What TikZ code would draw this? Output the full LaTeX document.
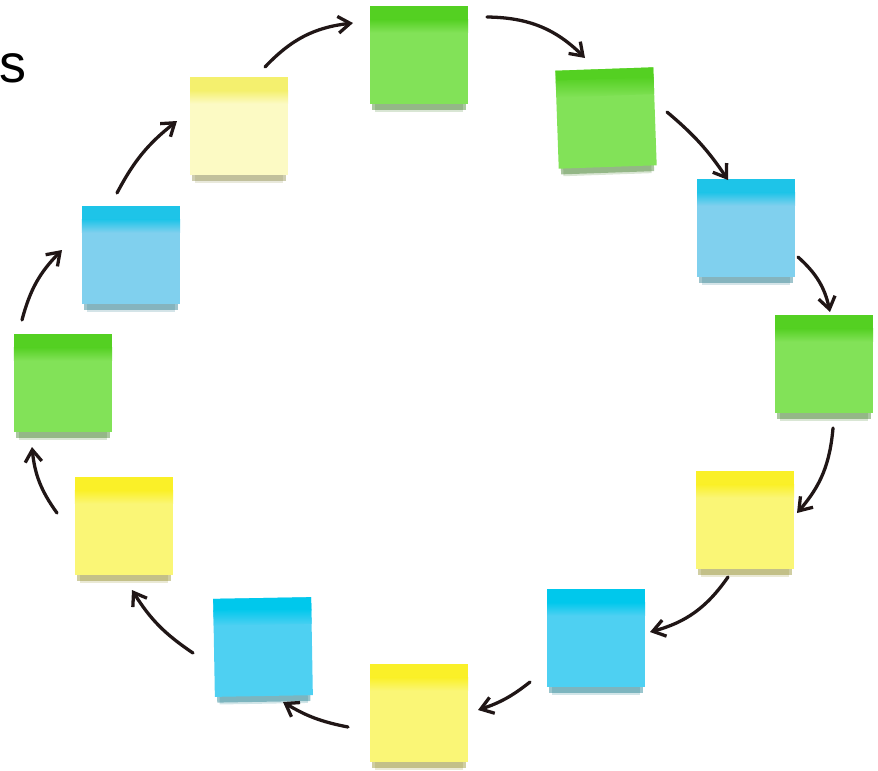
\documentclass[tikz,border=0pt]{standalone}
\usepackage{fontspec}
\setsansfont{Liberation Sans}
\usepackage{tikz}
\usetikzlibrary{arrows.meta, shadows, positioning}
\definecolor{greenbody}{RGB}{130,226,88}
\definecolor{greentop}{RGB}{84,208,34}
\definecolor{bluebody}{RGB}{128,208,238}
\definecolor{bluetop}{RGB}{30,196,232}
\definecolor{cyanbody}{RGB}{78,208,242}
\definecolor{cyantop}{RGB}{0,200,236}
\definecolor{yellowbody}{RGB}{250,246,118}
\definecolor{yellowtop}{RGB}{250,240,40}
\definecolor{palebody}{RGB}{252,250,196}
\definecolor{paletop}{RGB}{244,240,110}
\definecolor{ink}{RGB}{32,22,22}
\tikzset{note/.style 2 args={rectangle, minimum width=2.94cm, minimum height=2.94cm, inner sep=0pt, fill=#1,
    drop shadow={shadow xshift=0pt, shadow yshift=-0.42cm, shadow scale=0.9, fill=#2!55!black, opacity=0.18},
    drop shadow={shadow xshift=0pt, shadow yshift=-0.26cm, shadow scale=0.95, fill=#2!55!black, opacity=0.4},
    path picture={\fill[#2] (path picture bounding box.north west) rectangle ([yshift=-0.4cm]path picture bounding box.north east);
        \shade[top color=#2, bottom color=#1] ([yshift=-0.4cm]path picture bounding box.north west) rectangle ([yshift=-0.8cm]path picture bounding box.north east);}}}
\tikzstyle{greennote} = [note={greenbody}{greentop}]
\tikzstyle{bluenote} = [note={bluebody}{bluetop}]
\tikzstyle{cyannote} = [note={cyanbody}{cyantop}]
\tikzstyle{yellownote} = [note={yellowbody}{yellowtop}]
\tikzstyle{palenote} = [note={palebody}{paletop}]
\tikzstyle{flow} = [-{Straight Barb[length=3.6mm, width=5mm]}, line width=2.8pt, draw=ink, line cap=round]

\begin{document}
\begin{tikzpicture}[x=0.03cm, y=-0.03cm]
        \useasboundingbox (0,0) rectangle (878,770);
        \node[anchor=base west, inner sep=0pt, font=\sffamily\fontsize{46}{46}\selectfont] (word) at (-1,82) {s};

        \node[greennote] (n1) at (419,55) {};
        \node[greennote, rotate=2] (n2) at (606,118) {};
        \node[bluenote] (n3) at (746,228) {};
        \node[greennote] (n4) at (824,364) {};
        \node[yellownote] (n5) at (745,520) {};
        \node[cyannote] (n6) at (596,638) {};
        \node[yellownote] (n7) at (419,713) {};
        \node[cyannote, rotate=1] (n8) at (263,647) {};
        \node[yellownote] (n9) at (124,526) {};
        \node[greennote] (n10) at (63,383) {};
        \node[bluenote] (n11) at (131,255) {};
        \node[palenote] (n12) at (239,126) {};

        \draw [flow] ([shift={(26,-59)}]n12.center) to[bend left=20] ([shift={(-66,-32)}]n1.center);
        \draw [flow] ([shift={(68,-38)}]n1.center) to[bend left=22] ([shift={(-21,-60)}]n2.center);
        \draw [flow] ([shift={(61,-6)}]n2.center) to[bend left=8] ([shift={(-18,-48)}]n3.center);
        \draw [flow] ([shift={(52,29)}]n3.center) to[bend left=18] ([shift={(6,-52)}]n4.center);
        \draw [flow] ([shift={(9,64)}]n4.center) to[bend left=18] ([shift={(52,-7)}]n5.center);
        \draw [flow] ([shift={(-17,57)}]n5.center) to[bend left=20] ([shift={(54,-6)}]n6.center);
        \draw [flow] ([shift={(-66,44)}]n6.center) to[bend left=10] ([shift={(59,-3)}]n7.center);
        \draw [flow] ([shift={(-71,14)}]n7.center) to[bend left=10] ([shift={(20,55)}]n8.center);
        \draw [flow] ([shift={(-70,6)}]n8.center) to[bend left=12] ([shift={(8,64)}]n9.center);
        \draw [flow] ([shift={(-67,-13)}]n9.center) to[bend left=15] ([shift={(-31,64)}]n10.center);
        \draw [flow] ([shift={(-41,-63)}]n10.center) to[bend left=15] ([shift={(-69,-5)}]n11.center);
        \draw [flow] ([shift={(-14,-62)}]n11.center) to[bend left=12] ([shift={(-62,-5)}]n12.center);
\end{tikzpicture}
\end{document}
